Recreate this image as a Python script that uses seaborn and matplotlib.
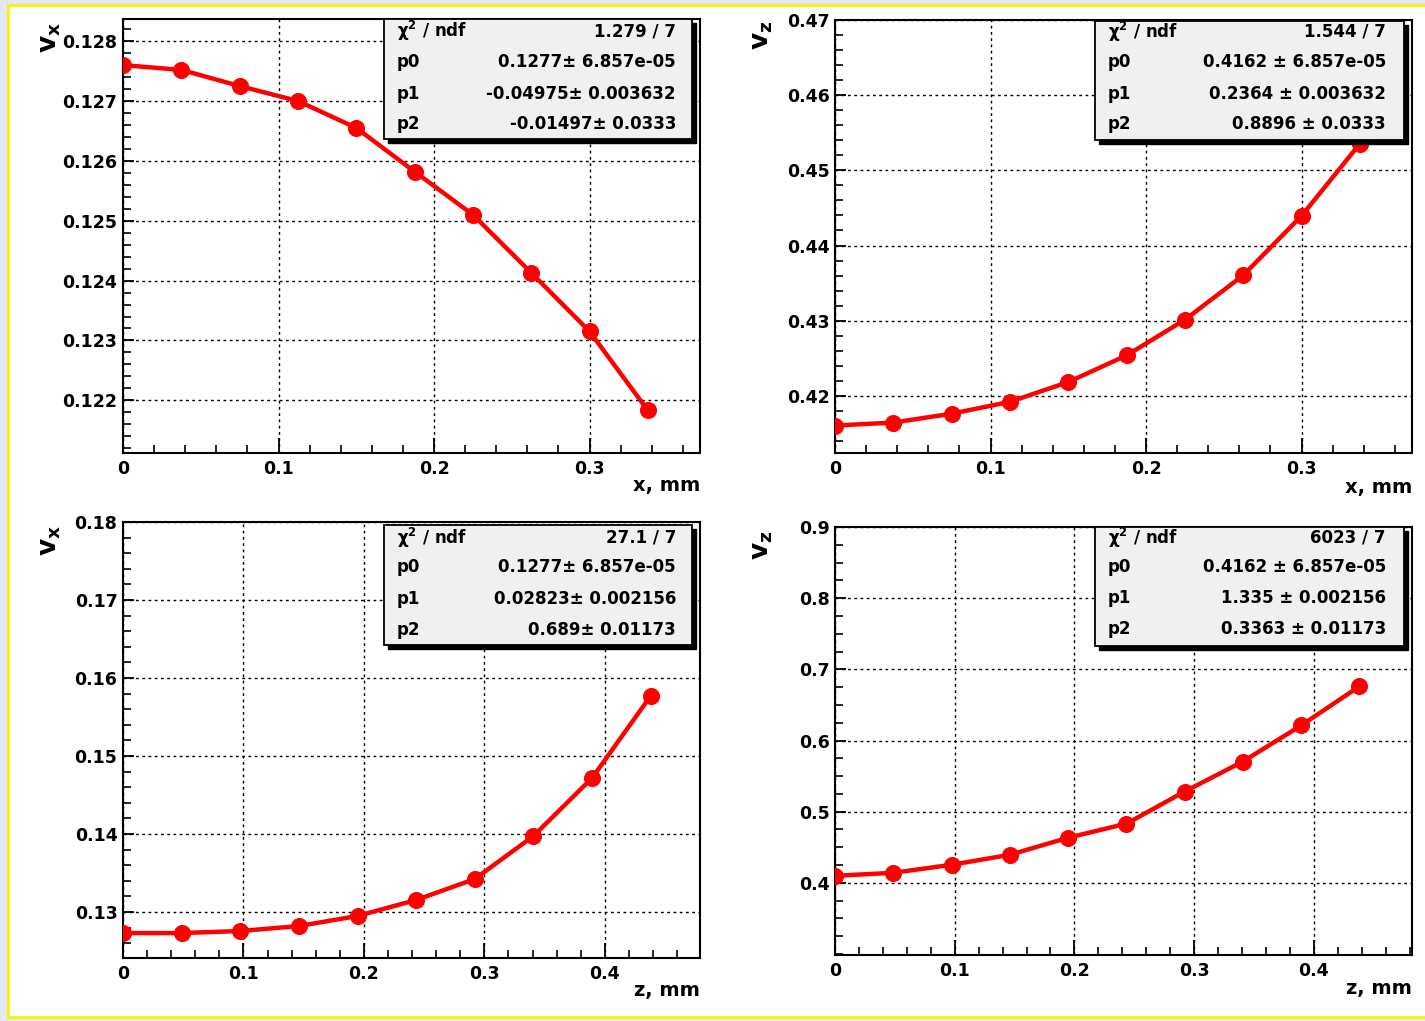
import matplotlib
matplotlib.use("Agg")
import matplotlib.pyplot as plt
import seaborn as sns
import numpy as np
from matplotlib.ticker import MultipleLocator, FixedLocator, FixedFormatter
from matplotlib.patches import Rectangle

# ---------------- data ----------------
x_pos = [0, 0.0375, 0.075, 0.1125, 0.15, 0.1875, 0.225, 0.2625, 0.3, 0.3375]
z_pos = [0, 0.0487, 0.0974, 0.146, 0.1947, 0.2434, 0.292, 0.3407, 0.3894, 0.438]

vx_vs_x = [0.1276, 0.12752, 0.12725, 0.1270, 0.12655, 0.12582, 0.1251, 0.12413, 0.12315, 0.12183]
vz_vs_x = [0.41605, 0.41645, 0.41763, 0.41921, 0.42184, 0.42539, 0.43013, 0.43605, 0.44395, 0.45355]
vx_vs_z = [0.1273, 0.1273, 0.12756, 0.1282, 0.12949, 0.13154, 0.13423, 0.13974, 0.14718, 0.15769]
vz_vs_z = [0.4099, 0.4141, 0.4254, 0.4394, 0.4634, 0.4831, 0.5282, 0.5704, 0.6211, 0.6761]

x_ticks_x = [0, 0.1, 0.2, 0.3]
x_ticklabels_x = ["0", "0.1", "0.2", "0.3"]
x_ticks_z = [0, 0.1, 0.2, 0.3, 0.4]
x_ticklabels_z = ["0", "0.1", "0.2", "0.3", "0.4"]

yt_tl = [0.122, 0.123, 0.124, 0.125, 0.126, 0.127, 0.128]
yl_tl = ["0.122", "0.123", "0.124", "0.125", "0.126", "0.127", "0.128"]
yt_tr = [0.42, 0.43, 0.44, 0.45, 0.46, 0.47]
yl_tr = ["0.42", "0.43", "0.44", "0.45", "0.46", "0.47"]
yt_bl = [0.13, 0.14, 0.15, 0.16, 0.17, 0.18]
yl_bl = ["0.13", "0.14", "0.15", "0.16", "0.17", "0.18"]
yt_br = [0.4, 0.5, 0.6, 0.7, 0.8, 0.9]
yl_br = ["0.4", "0.5", "0.6", "0.7", "0.8", "0.9"]

stat_labels = [r"$\chi^2$ / ndf", "p0", "p1", "p2"]
stats_tl = ["1.279 / 7", "0.1277\u00b1 6.857e-05", "-0.04975\u00b1 0.003632", "-0.01497\u00b1 0.0333"]
stats_tr = ["1.544 / 7", "0.4162 \u00b1 6.857e-05", "0.2364 \u00b1 0.003632", "0.8896 \u00b1 0.0333"]
stats_bl = ["27.1 / 7", "0.1277\u00b1 6.857e-05", "0.02823\u00b1 0.002156", "0.689\u00b1 0.01173"]
stats_br = ["6023 / 7", "0.4162 \u00b1 6.857e-05", "1.335 \u00b1 0.002156", "0.3363 \u00b1 0.01173"]

# ---------------- style ----------------
sns.set_style("white")
plt.rcParams["font.family"] = ["DejaVu Sans"]
plt.rcParams["font.weight"] = "bold"
plt.rcParams["mathtext.default"] = "bf"
plt.rcParams["text.color"] = "black"
plt.rcParams["xtick.color"] = "black"
plt.rcParams["ytick.color"] = "black"
plt.rcParams["xtick.labelcolor"] = "black"
plt.rcParams["ytick.labelcolor"] = "black"

W, H = 1425, 1021
fig = plt.figure(figsize=(W / 100, H / 100), dpi=100)
fig.patch.set_facecolor("#e6e6fa")
# white page with yellow frame
fig.patches.append(Rectangle((8 / W, 4 / H), (W + 20 - 8) / W, (1017 - 5) / H,
                             transform=fig.transFigure, facecolor="white",
                             edgecolor="#f5f500", lw=2.0, zorder=-10))


def px_axes(l, r, t, b):
    return fig.add_axes([l / W, 1 - b / H, (r - l) / W, (b - t) / H])


def style_axes(ax, xlim, ylim, xt, xtl, yt, ytl, xminor, yminor):
    ax.set_facecolor("white")
    ax.set_xlim(*xlim)
    ax.set_ylim(*ylim)
    ax.xaxis.set_major_locator(FixedLocator(xt))
    ax.xaxis.set_major_formatter(FixedFormatter(xtl))
    ax.yaxis.set_major_locator(FixedLocator(yt))
    ax.yaxis.set_major_formatter(FixedFormatter(ytl))
    ax.xaxis.set_minor_locator(MultipleLocator(xminor))
    ax.yaxis.set_minor_locator(MultipleLocator(yminor))
    ax.tick_params(axis="x", which="major", direction="in", length=11, width=1.3,
                   labelsize=12.5, pad=5, bottom=True, top=False, color="black",
                   labelcolor="black")
    ax.tick_params(axis="x", which="minor", direction="in", length=6, width=1.2,
                   bottom=True, top=False, color="black")
    ax.tick_params(axis="y", which="major", direction="in", length=8, width=1.3,
                   labelsize=12.5, pad=4, left=True, right=False, color="black",
                   labelcolor="black")
    ax.tick_params(axis="y", which="minor", direction="in", length=6, width=1.2,
                   left=True, right=False, color="black")
    for lab in ax.get_xticklabels() + ax.get_yticklabels():
        lab.set_fontweight("bold")
    for sp in ax.spines.values():
        sp.set_visible(True)
        sp.set_color("black")
        sp.set_linewidth(1.5)
    ax.grid(True, which="major", color="black", linestyle=(0, (2.0, 2.5)), linewidth=1.0)
    ax.grid(False, which="minor")
    ax.set_axisbelow(True)
    ax.set_xlabel("")
    ax.set_ylabel("")


def draw_series(ax, xs, ys):
    sns.lineplot(x=xs, y=ys, ax=ax, color="#ff0000", linewidth=3.2, marker="o",
                 markersize=11.5, markeredgecolor="#ff0000", zorder=5, sort=False)


def stat_box(l, t, r, b, values, lab_x, val_x, rows):
    sh = 4
    fig.patches.append(Rectangle((((l + sh) / W), 1 - (b + sh) / H), (r - l) / W, (b - t) / H,
                                 transform=fig.transFigure, facecolor="black",
                                 edgecolor="black", zorder=8))
    fig.patches.append(Rectangle((l / W, 1 - b / H), (r - l) / W, (b - t) / H,
                                 transform=fig.transFigure, facecolor="#f0f0f0",
                                 edgecolor="black", lw=1.3, zorder=9))
    for lab, val, yy in zip(stat_labels, values, rows):
        fig.text(lab_x / W, 1 - yy / H, lab, ha="left", va="center", fontsize=12,
                 fontweight="bold", color="black", zorder=10)
        fig.text(val_x / W, 1 - yy / H, val, ha="right", va="center", fontsize=12,
                 fontweight="bold", color="black", zorder=10)


# ---------------- panels ----------------
ax1 = px_axes(123, 700, 19, 453)
draw_series(ax1, x_pos, vx_vs_x)
style_axes(ax1, (0, 0.371), (0.12112, 0.12837), x_ticks_x, x_ticklabels_x, yt_tl, yl_tl, 0.02, 0.0002)

ax2 = px_axes(835, 1412, 20, 453)
draw_series(ax2, x_pos, vz_vs_x)
style_axes(ax2, (0, 0.371), (0.4124, 0.47), x_ticks_x, x_ticklabels_x, yt_tr, yl_tr, 0.02, 0.002)

ax3 = px_axes(123, 700, 522, 958)
draw_series(ax3, z_pos, vx_vs_z)
style_axes(ax3, (0, 0.479), (0.1241, 0.18), x_ticks_z, x_ticklabels_z, yt_bl, yl_bl, 0.02, 0.002)

ax4 = px_axes(835, 1412, 527, 955)
draw_series(ax4, z_pos, vz_vs_z)
style_axes(ax4, (0, 0.482), (0.2986, 0.9), x_ticks_z, x_ticklabels_z, yt_br, yl_br, 0.02, 0.025)

# axis titles
fig.text(700 / W, 1 - 485 / H, "x, mm", ha="right", va="center", fontsize=14, fontweight="bold", color="black")
fig.text(1412 / W, 1 - 487 / H, "x, mm", ha="right", va="center", fontsize=14, fontweight="bold", color="black")
fig.text(700 / W, 1 - 990 / H, "z, mm", ha="right", va="center", fontsize=14, fontweight="bold", color="black")
fig.text(1412 / W, 1 - 988 / H, "z, mm", ha="right", va="center", fontsize=14, fontweight="bold", color="black")

fig.text(50 / W, 1 - 37 / H, r"$\mathbf{v_x}$", rotation=90, ha="center", va="center", fontsize=19, color="black")
fig.text(762 / W, 1 - 35 / H, r"$\mathbf{v_z}$", rotation=90, ha="center", va="center", fontsize=19, color="black")
fig.text(50 / W, 1 - 540 / H, r"$\mathbf{v_x}$", rotation=90, ha="center", va="center", fontsize=19, color="black")
fig.text(762 / W, 1 - 545 / H, r"$\mathbf{v_z}$", rotation=90, ha="center", va="center", fontsize=19, color="black")

# stat boxes
stat_box(384, 19, 692, 139, stats_tl, 397, 676, [31, 62, 94, 124])
stat_box(1095, 21, 1404, 140, stats_tr, 1108, 1386, [32, 62, 94, 124])
stat_box(384, 525, 692, 645, stats_bl, 397, 676, [538, 567, 599, 630])
stat_box(1095, 527, 1404, 646, stats_br, 1108, 1386, [538, 567, 598, 629])

fig.savefig("out.png", dpi=100, facecolor=fig.get_facecolor())
